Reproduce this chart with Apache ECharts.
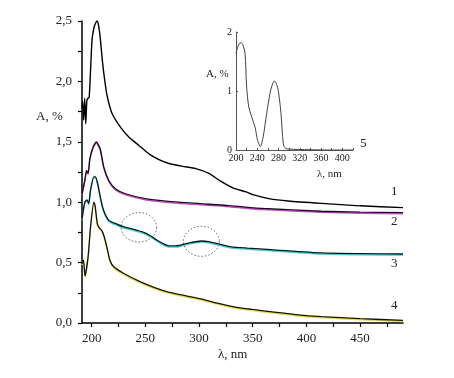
<!DOCTYPE html>
<html>
<head>
<meta charset="utf-8">
<script src="https://cdn.jsdelivr.net/npm/echarts@6/dist/echarts.min.js"></script>
<style>
  html, body { margin: 0; padding: 0; background: #fff; }
  #chart { width: 454px; height: 378px; }
</style>
</head>
<body>
<div id="chart"></div>
<script>
// main plot data (lambda, nm / A, %)
const curve1 = [
  [191, 1.78], [191.5, 1.84], [192.5, 1.68], [193.5, 1.86], [194.5, 1.65], [195.5, 1.84],
  [196.5, 1.86], [197.7, 1.87], [199, 2.1], [200.3, 2.34], [202, 2.44], [203.5, 2.48],
  [205, 2.5], [206.5, 2.46], [208, 2.36], [210, 2.17], [212, 2.02], [214.4, 1.88],
  [219, 1.735], [227, 1.62], [234.6, 1.54], [244, 1.47], [253.4, 1.4], [262.7, 1.352],
  [272, 1.32], [284.6, 1.297], [297, 1.278], [309.6, 1.237], [319, 1.18], [331.5, 1.118],
  [344, 1.085], [351, 1.06], [365, 1.03], [383, 1.01], [414, 0.99], [450, 0.97], [490, 0.955]
];
const curve2 = [
  [191, 1.07], [193.6, 1.18], [195.2, 1.264], [196.7, 1.24], [198.3, 1.36], [201.3, 1.457],
  [204.4, 1.5], [208, 1.44], [211.3, 1.29], [216, 1.18], [222.3, 1.11], [231.6, 1.07],
  [250, 1.03], [281, 1.0], [328, 0.972], [360, 0.948], [414, 0.925], [450, 0.918], [490, 0.914]
];
const curve3 = [
  [191, 0.86], [193.6, 1.0], [195.7, 1.02], [197.3, 0.99], [198.9, 1.1], [202, 1.21],
  [203.5, 1.21], [205.6, 1.155], [208, 1.045], [211, 0.935], [216, 0.85], [223, 0.82],
  [230, 0.795], [239, 0.775], [248.5, 0.75], [255, 0.72], [261, 0.685], [267, 0.655],
  [272, 0.638], [278, 0.638], [283, 0.645], [292, 0.665], [302, 0.679], [310, 0.672],
  [317, 0.657], [330, 0.63], [345, 0.62], [367, 0.608], [414, 0.58], [450, 0.574], [490, 0.571]
];
const curve4 = [
  [191, 0.49], [192.4, 0.52], [193.8, 0.39], [196.7, 0.55], [199, 0.8], [202, 1.0],
  [203.2, 0.97], [205.3, 0.82], [207, 0.79], [209.5, 0.765], [211.5, 0.72], [214.4, 0.62],
  [217, 0.52], [220.6, 0.465], [230, 0.41], [245.6, 0.34], [258, 0.295], [270.6, 0.257],
  [286, 0.228], [301.8, 0.2], [320, 0.158], [335, 0.13], [350, 0.112], [370, 0.09],
  [390, 0.07], [414, 0.053], [450, 0.036], [490, 0.022]
];

// inset curve 5
const insetLambda = [200, 203, 206, 209.4, 213, 217, 220, 224, 229.5, 235.7, 240.7, 245.7, 251,
  257.7, 263.9, 268, 272, 276, 279.5, 284.6, 289, 293, 300, 317, 340, 380, 420];
const insetA = [1.64, 1.74, 1.8, 1.82, 1.78, 1.64, 1.07, 0.73, 0.56, 0.39, 0.16, 0.06, 0.22,
  0.62, 0.96, 1.1, 1.17, 1.12, 1.01, 0.62, 0.105, 0.03, 0.015, 0.01, 0.005, 0, 0];

// dotted ellipses: center lambda, center A, half-width (nm), half-height (A)
const ellipses = [
  [244, 0.792, 16.6, 0.122],
  [302.2, 0.676, 16.7, 0.124]
];

const xLabelVals = [200, 250, 300, 350, 400, 450];
const xTickVals = [200, 225, 250, 275, 300, 325, 350, 375, 400, 425, 450, 475];
const yTickVals = [0, 0.25, 0.5, 0.75, 1, 1.25, 1.5, 1.75, 2, 2.25, 2.5];
const insetXLabels = [200, 240, 280, 320, 360, 400];

const serif = '"Liberation Serif", "Times New Roman", serif';
const comma = (v) => v.toFixed(1).replace(".", ",");

const chart = echarts.init(document.getElementById("chart"));

const curveSeries = (data, tint) => ({
  type: "line",
  xAxisIndex: 0,
  yAxisIndex: 0,
  data,
  showSymbol: false,
  smooth: 0.2,
  lineStyle: tint
    ? { color: "#111", width: 1.3, shadowColor: tint, shadowBlur: 0, shadowOffsetY: 1.2 }
    : { color: "#000", width: 1.4 },
  z: 3,
});

chart.setOption({
  animation: false,
  grid: [
    { left: 82, top: 21, width: 321, height: 302 },
    { left: 236, top: 32, width: 117, height: 118 },
  ],
  xAxis: [
    {
      type: "value",
      gridIndex: 0,
      min: 191,
      max: 490,
      splitLine: { show: false },
      axisLine: { lineStyle: { color: "#000", width: 1.5 } },
      axisTick: { customValues: xTickVals, length: 4, lineStyle: { color: "#000", width: 1.2 } },
      axisLabel: {
        customValues: xLabelVals,
        color: "#222",
        fontFamily: serif,
        fontSize: 13,
        margin: 9,
      },
    },
    {
      type: "value",
      gridIndex: 1,
      min: 200,
      max: 420,
      interval: 40,
      splitLine: { show: false },
      axisLine: { lineStyle: { color: "#555", width: 1 } },
      axisTick: { inside: true, length: 2, lineStyle: { color: "#555" } },
      minorTick: { show: true, splitNumber: 2, length: 2, lineStyle: { color: "#555" } },
      axisLabel: {
        customValues: insetXLabels,
        color: "#222",
        fontFamily: serif,
        fontSize: 10,
        margin: 3,
      },
    },
  ],
  yAxis: [
    {
      type: "value",
      gridIndex: 0,
      min: 0,
      max: 2.5,
      interval: 0.5,
      splitLine: { show: false },
      axisLine: { lineStyle: { color: "#000", width: 1.5 } },
      axisTick: { customValues: yTickVals, length: 4, lineStyle: { color: "#000", width: 1.2 } },
      axisLabel: {
        color: "#222",
        fontFamily: serif,
        fontSize: 13,
        margin: 10,
        formatter: comma,
      },
    },
    {
      type: "value",
      gridIndex: 1,
      min: 0,
      max: 2,
      interval: 1,
      splitLine: { show: false },
      axisLine: { lineStyle: { color: "#555", width: 1 } },
      axisTick: { inside: true, length: 2, lineStyle: { color: "#555" } },
      axisLabel: { color: "#222", fontFamily: serif, fontSize: 10, margin: 4 },
    },
  ],
  series: [
    curveSeries(curve1, null),
    curveSeries(curve2, "#d43cd4"),
    curveSeries(curve3, "#2fd6e0"),
    curveSeries(curve4, "#e8e030"),
    {
      type: "line",
      xAxisIndex: 1,
      yAxisIndex: 1,
      data: insetLambda.map((x, i) => [x, insetA[i]]),
      showSymbol: false,
      smooth: 0.3,
      lineStyle: { color: "#444", width: 1 },
    },
    {
      type: "custom",
      xAxisIndex: 0,
      yAxisIndex: 0,
      data: ellipses,
      renderItem: (params, api) => {
        const c = api.coord([api.value(0), api.value(1)]);
        const s = api.size([api.value(2), api.value(3)]);
        const pts = [];
        for (let i = 0; i < 60; i++) {
          const t = (i / 60) * Math.PI * 2;
          pts.push([c[0] + s[0] * Math.cos(t), c[1] + s[1] * Math.sin(t)]);
        }
        return {
          type: "polygon",
          shape: { points: pts },
          style: { fill: null, stroke: "#666", lineWidth: 1, lineDash: [1.5, 2] },
        };
      },
      z: 2,
    },
  ],
  graphic: [
    { type: "text", left: 36, top: 110, style: { text: "A, %", font: "13px " + serif, fill: "#222" } },
    { type: "text", left: 218, top: 348, style: { text: "λ, nm", font: "13px " + serif, fill: "#222" } },
    { type: "text", left: 206, top: 69, style: { text: "A, %", font: "11px " + serif, fill: "#222" } },
    { type: "text", left: 317, top: 169, style: { text: "λ, nm", font: "11px " + serif, fill: "#222" } },
    { type: "text", left: 391, top: 185, style: { text: "1", font: "13px " + serif, fill: "#222" } },
    { type: "text", left: 391, top: 215, style: { text: "2", font: "13px " + serif, fill: "#222" } },
    { type: "text", left: 391, top: 257, style: { text: "3", font: "13px " + serif, fill: "#222" } },
    { type: "text", left: 391, top: 299, style: { text: "4", font: "13px " + serif, fill: "#222" } },
    { type: "text", left: 360, top: 137, style: { text: "5", font: "13px " + serif, fill: "#222" } },
  ],
});
</script>
</body>
</html>
